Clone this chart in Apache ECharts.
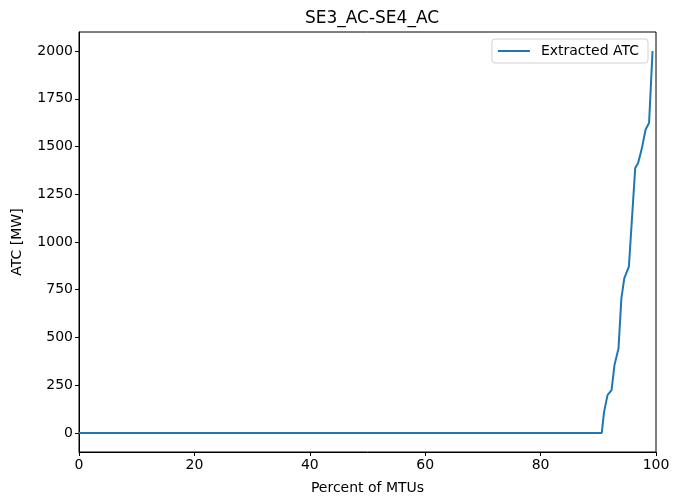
<!DOCTYPE html>
<html>
<head>
<meta charset="utf-8">
<script src="https://cdn.jsdelivr.net/npm/echarts@6/dist/echarts.min.js"></script>
<style>html,body{margin:0;padding:0;background:#fff}#c{width:673px;height:496px}</style>
</head>
<body>
<div id="c"></div>
<script>
var percentMTU = [0, 90.6, 91.0, 91.6, 92.3, 92.8, 93.5, 94.0, 94.5, 95.3, 96.4, 96.9, 97.5, 98.2, 98.8, 99.4];
var atcMW =      [0, 0,    110,  198,  224,  355,  442,  705,  810,  871,  1388, 1414, 1484, 1589, 1624, 2000];
var yTicks = [0, 250, 500, 750, 1000, 1250, 1500, 1750, 2000];
var xTicks = [0, 20, 40, 60, 80, 100];
var titleText = 'SE3_AC-SE4_AC';
var seriesName = 'Extracted ATC';

var font = 'DejaVu Sans';
var chart = echarts.init(document.getElementById('c'), null, {renderer: 'canvas'});
chart.setOption({
  animation: false,
  backgroundColor: '#fff',
  title: {text: titleText, left: 367, top: 5, textAlign: 'center',
    textStyle: {fontFamily: font, fontSize: 17, fontWeight: 'normal', color: '#000'}},
  legend: {
    data: [seriesName], right: 25, top: 39, orient: 'vertical',
    borderColor: '#d0d0d0', borderWidth: 1, borderRadius: 3, padding: [5, 9, 5, 6],
    itemWidth: 32, itemHeight: 2, icon: 'rect', itemGap: 0,
    textStyle: {fontFamily: font, fontSize: 14, color: '#000', padding: [0, 0, 0, 6]}
  },
  grid: {left: 79, right: 17, top: 32, bottom: 44, show: true, borderColor: '#000', borderWidth: 1,
    containLabel: false, outerBoundsMode: 'none'},
  xAxis: {
    type: 'value', min: 0, max: 100, interval: 20,
    name: 'Percent of MTUs', nameLocation: 'middle', nameGap: 29,
    nameTextStyle: {fontFamily: font, fontSize: 14, color: '#000'},
    axisLine: {show: true, onZero: false, lineStyle: {color: '#000'}},
    axisTick: {show: true, inside: false, length: 4, lineStyle: {color: '#000'}},
    axisLabel: {fontFamily: font, fontSize: 14, color: '#000', margin: 6, customValues: xTicks},
    splitLine: {show: false}
  },
  yAxis: {
    type: 'value', min: -100, max: 2100,
    name: 'ATC [MW]', nameLocation: 'middle', nameGap: 55, nameRotate: 90,
    nameTextStyle: {fontFamily: font, fontSize: 14, color: '#000'},
    axisLine: {show: true, onZero: false, lineStyle: {color: '#000'}},
    axisTick: {show: true, inside: false, length: 4, customValues: yTicks, lineStyle: {color: '#000'}},
    axisLabel: {fontFamily: font, fontSize: 14, color: '#000', margin: 6, customValues: yTicks,
      formatter: function (v) { return String(v); }},
    splitLine: {show: false}
  },
  series: [{
    name: seriesName, type: 'line', showSymbol: false, symbol: 'none',
    data: percentMTU.map(function (x, i) { return [x, atcMW[i]]; }),
    lineStyle: {color: '#1f77b4', width: 2},
    itemStyle: {color: '#1f77b4'}
  }]
});
</script>
</body>
</html>
